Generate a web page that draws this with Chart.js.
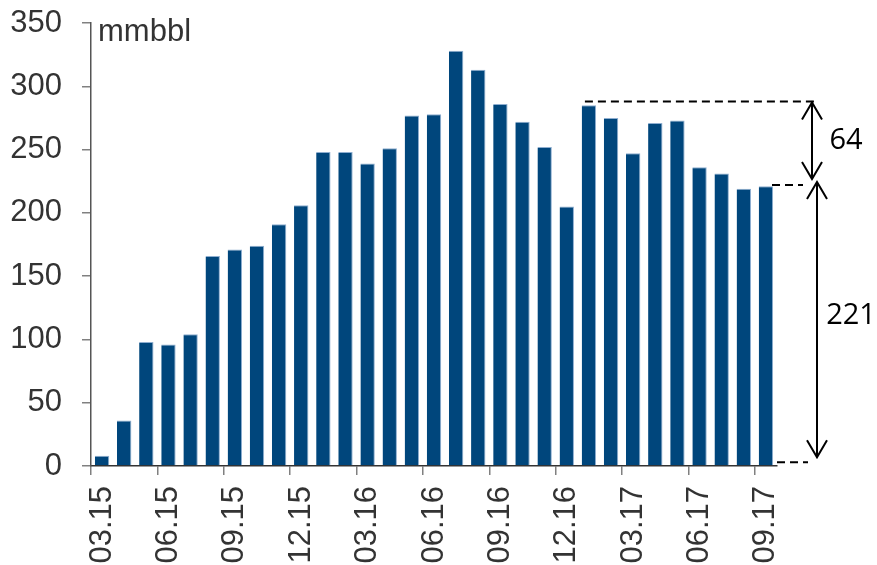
<!DOCTYPE html>
<html>
<head>
<meta charset="utf-8">
<script src="https://cdn.jsdelivr.net/npm/chart.js@4/dist/chart.umd.min.js"></script>
<style>
  html, body { margin: 0; padding: 0; background: #fff; }
  #wrap { width: 877px; height: 565px; }
</style>
</head>
<body>
<div id="wrap"><canvas id="c" width="877" height="565"></canvas></div>
<script>
// monthly, 03.15 .. 09.17
const months = ['03.15','04.15','05.15','06.15','07.15','08.15','09.15','10.15','11.15','12.15',
  '01.16','02.16','03.16','04.16','05.16','06.16','07.16','08.16','09.16','10.16','11.16','12.16',
  '01.17','02.17','03.17','04.17','05.17','06.17','07.17','08.17','09.17'];
const volume = [8, 36, 98, 96, 104, 166, 171, 174, 191, 206,
  248, 248, 239, 251, 277, 278, 328, 313, 286, 272, 252, 205,
  285, 275, 247, 271, 273, 236, 231, 219, 221];
const yTicks = [0, 50, 100, 150, 200, 250, 300, 350];
const unitLabel = 'mmbbl';
// bracket on the right: levels as drawn, and their labels
const bracketLevels = [3, 222, 288];
const bracketLabels = ['221', '64'];

const axisFont = { family: '"Liberation Sans", Arial, sans-serif', size: 31 };

const notes = {
  id: 'notes',
  afterDraw(chart) {
    const { ctx, chartArea: ca, scales: { x, y } } = chart;
    const yb = y.getPixelForValue(bracketLevels[0]);
    const ym = y.getPixelForValue(bracketLevels[1]);
    const yt = y.getPixelForValue(bracketLevels[2]);
    const r = ca.right;
    ctx.save();
    ctx.fillStyle = '#333';
    ctx.font = '31px "Liberation Sans", Arial, sans-serif';
    ctx.textBaseline = 'alphabetic';
    ctx.fillText(unitLabel, ca.left + 7, 41);

    ctx.strokeStyle = '#000';
    ctx.lineWidth = 2;
    ctx.setLineDash([8, 5]);
    const dash = (x1, x2, yy) => { ctx.beginPath(); ctx.moveTo(x1, yy); ctx.lineTo(x2, yy); ctx.stroke(); };
    dash(x.getPixelForValue(22) - 4, r + 40, yt);
    dash(r - 5, r + 26, ym);
    dash(r, r + 31, yb);
    ctx.setLineDash([]);

    const arrow = (ax, y1, y2) => {
      ctx.beginPath(); ctx.moveTo(ax, y1); ctx.lineTo(ax, y2); ctx.stroke();
      ctx.beginPath();
      ctx.moveTo(ax - 10, y1 + 17); ctx.lineTo(ax, y1); ctx.lineTo(ax + 10, y1 + 17);
      ctx.moveTo(ax - 10, y2 - 17); ctx.lineTo(ax, y2); ctx.lineTo(ax + 10, y2 - 17);
      ctx.stroke();
    };
    arrow(r + 35, yt + 1, ym - 6);
    arrow(r + 40, ym - 3, yb - 5);

    ctx.fillStyle = '#000';
    ctx.font = '29px "Open Sans", "Noto Sans", sans-serif';
    ctx.textAlign = 'center';
    ctx.textBaseline = 'middle';
    ctx.fillText(bracketLabels[1], r + 69, (yt + ym) / 2 - 3);
    ctx.fillText(bracketLabels[0], r + 74, (ym + yb) / 2 - 8);
    ctx.restore();
  }
};

new Chart(document.getElementById('c'), {
  type: 'bar',
  data: {
    labels: months,
    datasets: [{
      data: volume,
      backgroundColor: '#00467c',
      borderColor: '#8eaed0',
      borderWidth: { top: 1, right: 1, left: 0, bottom: 0 },
      borderSkipped: 'bottom',
      barPercentage: 0.65,
      categoryPercentage: 1
    }]
  },
  options: {
    responsive: false,
    animation: false,
    devicePixelRatio: 1,
    layout: { padding: { top: 23, right: 100, left: 0, bottom: 0 } },
    plugins: { legend: { display: false }, tooltip: { enabled: false } },
    scales: {
      x: {
        offset: true,
        grid: {
          offset: true, drawOnChartArea: false, tickLength: 9, lineWidth: 1.5,
          color: c => (c.index % 3 === 0 && c.index < months.length) ? '#808080' : 'rgba(0,0,0,0)'
        },
        border: { color: '#333', width: 1.5 },
        ticks: {
          autoSkip: false, maxRotation: 90, minRotation: 90, padding: 11,
          color: '#333', font: axisFont,
          callback: (v, i) => i % 3 === 0 ? months[i] : ''
        },
        afterFit: s => { s.height = 99; s.paddingLeft = 0; s.paddingRight = 0; }
      },
      y: {
        min: 0, max: 350,
        afterBuildTicks: s => { s.ticks = yTicks.map(v => ({ value: v })); },
        grid: { drawOnChartArea: false, tickLength: 9, color: '#808080', lineWidth: 1.5 },
        border: { color: '#555', width: 1.5 },
        ticks: { padding: 20, color: '#333', font: axisFont },
        afterFit: s => { s.width = 91; s.paddingTop = 0; s.paddingBottom = 0; }
      }
    }
  },
  plugins: [notes]
});
</script>
</body>
</html>
